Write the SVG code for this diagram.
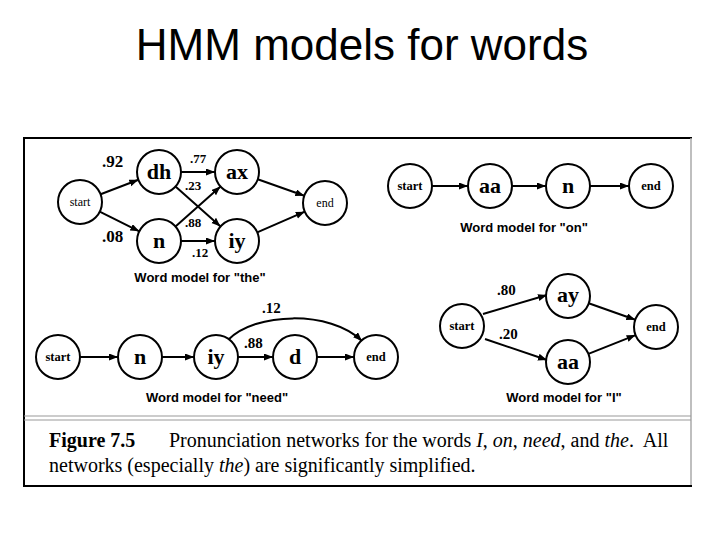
<svg xmlns="http://www.w3.org/2000/svg" width="720" height="540" viewBox="0 0 720 540">
<defs>
<marker id="ah" markerUnits="userSpaceOnUse" markerWidth="10" markerHeight="8" refX="9" refY="3.5" orient="auto">
<path d="M0,0 L9,3.5 L0,7 z" fill="#000"/>
</marker>
<style>
.nd{fill:#fff;stroke:#000;stroke-width:2}
.ph{font-family:"Liberation Serif",serif;font-weight:bold;font-size:22px;text-anchor:middle}
.se{font-family:"Liberation Serif",serif;font-size:12px;text-anchor:middle}
.seb{font-family:"Liberation Serif",serif;font-weight:bold;font-size:12.5px;text-anchor:middle}
.pb{font-family:"Liberation Serif",serif;font-weight:bold;font-size:17px}
.ps{font-family:"Liberation Serif",serif;font-weight:bold;font-size:13px}
.pm{font-family:"Liberation Serif",serif;font-weight:bold;font-size:15px}
.wl{font-family:"Liberation Sans",Arial,sans-serif;font-weight:bold;font-size:13px;text-anchor:middle}
.cap{font-family:"Liberation Serif",serif;font-size:20px}
.e{fill:none;stroke:#000;stroke-width:2;marker-end:url(#ah)}
</style>
</defs>
<rect width="720" height="540" fill="#fff"/>
<text x="362" y="60" font-family="Liberation Sans, Arial, sans-serif" font-size="44" text-anchor="middle">HMM models for words</text>
<g id="frame">
<line x1="24" y1="138" x2="692" y2="138" stroke="#000" stroke-width="2"/>
<line x1="24" y1="137" x2="24" y2="487" stroke="#000" stroke-width="2"/>
<line x1="691" y1="138" x2="691" y2="487" stroke="#aaa" stroke-width="1.5"/>
<line x1="24" y1="486" x2="692" y2="486" stroke="#000" stroke-width="2"/>
<line x1="24" y1="416" x2="691" y2="416" stroke="#999" stroke-width="1.2"/>
<line x1="24" y1="420" x2="691" y2="420" stroke="#999" stroke-width="1.2"/>
</g>
<g id="connectors">
<line class="e" x1="100.6" y1="194.2" x2="138.4" y2="179.8"/>
<line class="e" x1="99.7" y1="211.7" x2="139.3" y2="231.3"/>
<line class="e" x1="181" y1="172" x2="215" y2="172"/>
<line class="e" x1="175.5" y1="186.6" x2="220.5" y2="226.4"/>
<line class="e" x1="175.5" y1="226.4" x2="220.5" y2="186.6"/>
<line class="e" x1="181" y1="241" x2="215" y2="241"/>
<line class="e" x1="257.7" y1="179.3" x2="304.3" y2="195.7"/>
<line class="e" x1="257.2" y1="232.3" x2="304.8" y2="211.7"/>
<line class="e" x1="432" y1="186" x2="468" y2="186"/>
<line class="e" x1="512" y1="186" x2="546" y2="186"/>
<line class="e" x1="590" y1="186" x2="629" y2="186"/>
<line class="e" x1="80" y1="357" x2="118" y2="357"/>
<line class="e" x1="162" y1="357" x2="194" y2="357"/>
<line class="e" x1="238" y1="357" x2="273" y2="357"/>
<line class="e" x1="317" y1="357" x2="354" y2="357"/>
<path class="e" d="M228,340 C255,312 330,310 362,341"/>
<line class="e" x1="483" y1="314" x2="547" y2="295"/>
<line class="e" x1="485" y1="339" x2="547" y2="360"/>
<line class="e" x1="588.7" y1="303.3" x2="635.3" y2="319.7"/>
<line class="e" x1="588.4" y1="353.9" x2="635.6" y2="335.1"/>
</g>
<g id="the-start"><circle class="nd" cx="80" cy="202" r="22"/><text class="se" x="80" y="206">start</text></g>
<g id="the-dh"><circle class="nd" cx="159" cy="172" r="22"/><text class="ph" x="159" y="179">dh</text></g>
<g id="the-ax"><circle class="nd" cx="237" cy="172" r="22"/><text class="ph" x="237" y="179">ax</text></g>
<g id="the-n"><circle class="nd" cx="159" cy="241" r="22"/><text class="ph" x="159" y="248">n</text></g>
<g id="the-iy"><circle class="nd" cx="237" cy="241" r="22"/><text class="ph" x="237" y="248">iy</text></g>
<g id="the-end"><circle class="nd" cx="325" cy="203" r="22"/><text class="se" x="325" y="207">end</text></g>
<g id="the-labels">
<text class="pb" x="102" y="167">.92</text>
<text class="pb" x="102" y="242">.08</text>
<text class="ps" x="190" y="163">.77</text>
<text class="ps" x="185" y="190">.23</text>
<text class="ps" x="185" y="227">.88</text>
<text class="ps" x="192" y="257">.12</text>
<text class="wl" x="200" y="282">Word model for "the"</text>
</g>
<g id="on-start"><circle class="nd" cx="410" cy="186" r="22"/><text class="seb" x="410" y="190">start</text></g>
<g id="on-aa"><circle class="nd" cx="490" cy="186" r="22"/><text class="ph" x="490" y="193">aa</text></g>
<g id="on-n"><circle class="nd" cx="568" cy="186" r="22"/><text class="ph" x="568" y="193">n</text></g>
<g id="on-end"><circle class="nd" cx="651" cy="186" r="22"/><text class="seb" x="651" y="190">end</text></g>
<text class="wl" x="524" y="232">Word model for "on"</text>
<g id="need-start"><circle class="nd" cx="58" cy="357" r="22"/><text class="seb" x="58" y="361">start</text></g>
<g id="need-n"><circle class="nd" cx="140" cy="357" r="22"/><text class="ph" x="140" y="364">n</text></g>
<g id="need-iy"><circle class="nd" cx="216" cy="357" r="22"/><text class="ph" x="216" y="364">iy</text></g>
<g id="need-d"><circle class="nd" cx="295" cy="357" r="22"/><text class="ph" x="295" y="364">d</text></g>
<g id="need-end"><circle class="nd" cx="376" cy="357" r="22"/><text class="seb" x="376" y="361">end</text></g>
<text class="pm" x="262" y="313">.12</text>
<text class="pm" x="244" y="348">.88</text>
<text class="wl" x="217" y="402">Word model for "need"</text>
<g id="i-start"><circle class="nd" cx="462" cy="326" r="22"/><text class="seb" x="462" y="330">start</text></g>
<g id="i-ay"><circle class="nd" cx="568" cy="296" r="22"/><text class="ph" x="568" y="302">ay</text></g>
<g id="i-aa"><circle class="nd" cx="568" cy="362" r="22"/><text class="ph" x="568" y="369">aa</text></g>
<g id="i-end"><circle class="nd" cx="656" cy="327" r="22"/><text class="seb" x="656" y="331">end</text></g>
<text class="pm" x="497" y="295">.80</text>
<text class="pm" x="499" y="339">.20</text>
<text class="wl" x="564" y="402">Word model for "I"</text>
<g id="caption">
<text class="cap" x="49" y="447"><tspan font-weight="bold">Figure 7.5</tspan></text>
<text class="cap" x="169" y="447">Pronunciation networks for the words <tspan font-style="italic">I</tspan>, <tspan font-style="italic">on</tspan>, <tspan font-style="italic">need</tspan>, and <tspan font-style="italic">the</tspan>.&#160; All</text>
<text class="cap" x="49" y="472">networks (especially <tspan font-style="italic">the</tspan>) are significantly simplified.</text>
</g>
</svg>
